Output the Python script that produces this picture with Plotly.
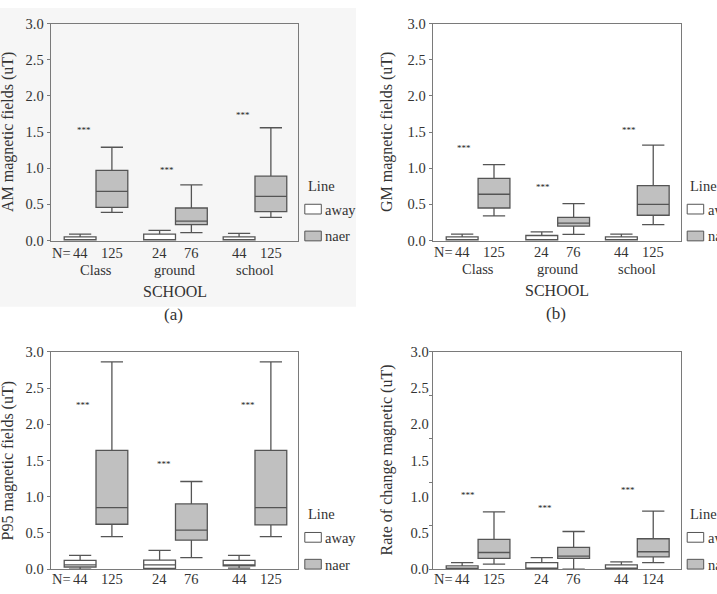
import plotly.graph_objects as go

W, H = 717, 594

# ---------------- data ----------------
groups = ["Class", "ground", "school"]
lines = ["away", "naer"]

# AM magnetic fields
am_away_q1 = [0.0, 0.0, 0.0]
am_away_med = [0.01, 0.01, 0.01]
am_away_q3 = [0.05, 0.09, 0.05]
am_away_lo = [0.0, 0.0, 0.0]
am_away_hi = [0.09, 0.14, 0.10]
am_naer_q1 = [0.46, 0.22, 0.40]
am_naer_med = [0.68, 0.27, 0.61]
am_naer_q3 = [0.97, 0.45, 0.89]
am_naer_lo = [0.39, 0.11, 0.32]
am_naer_hi = [1.29, 0.77, 1.56]
am_star_y = [1.56, 1.00, 1.77]
am_n_away = [44, 24, 44]
am_n_naer = [125, 76, 125]

# GM magnetic fields
gm_away_q1 = [0.0, 0.0, 0.0]
gm_away_med = [0.01, 0.01, 0.01]
gm_away_q3 = [0.05, 0.07, 0.05]
gm_away_lo = [0.0, 0.0, 0.0]
gm_away_hi = [0.09, 0.12, 0.09]
gm_naer_q1 = [0.45, 0.20, 0.35]
gm_naer_med = [0.64, 0.24, 0.50]
gm_naer_q3 = [0.86, 0.32, 0.76]
gm_naer_lo = [0.34, 0.085, 0.22]
gm_naer_hi = [1.05, 0.51, 1.32]
gm_star_y = [1.31, 0.77, 1.56]
gm_n_away = [44, 24, 44]
gm_n_naer = [125, 76, 125]

# P95 magnetic fields
p95_away_q1 = [0.03, 0.01, 0.045]
p95_away_med = [0.06, 0.06, 0.06]
p95_away_q3 = [0.12, 0.125, 0.12]
p95_away_lo = [0.0, 0.0, 0.015]
p95_away_hi = [0.19, 0.26, 0.19]
p95_naer_q1 = [0.62, 0.40, 0.61]
p95_naer_med = [0.85, 0.54, 0.85]
p95_naer_q3 = [1.64, 0.90, 1.64]
p95_naer_lo = [0.45, 0.16, 0.45]
p95_naer_hi = [2.86, 1.21, 2.86]
p95_star_y = [2.30, 1.48, 2.29]
p95_n_away = [44, 24, 44]
p95_n_naer = [125, 76, 125]

# Rate of change magnetic
rc_away_q1 = [0.0, 0.0, 0.0]
rc_away_med = [0.01, 0.01, 0.01]
rc_away_q3 = [0.045, 0.09, 0.06]
rc_away_lo = [0.0, 0.0, 0.0]
rc_away_hi = [0.09, 0.16, 0.10]
rc_naer_q1 = [0.15, 0.15, 0.17]
rc_naer_med = [0.23, 0.18, 0.24]
rc_naer_q3 = [0.41, 0.30, 0.42]
rc_naer_lo = [0.07, 0.0, 0.09]
rc_naer_hi = [0.79, 0.52, 0.80]
rc_star_y = [1.05, 0.87, 1.12]
rc_n_away = [44, 24, 44]
rc_n_naer = [125, 76, 124]

y_ticks = [0.0, 0.5, 1.0, 1.5, 2.0, 2.5, 3.0]
y_tick_text = ["0.0", "0.5", "1.0", "1.5", "2.0", "2.5", "3.0"]
rc_tick_marks = [0.0, 0.6, 1.2, 1.8, 2.4, 3.0]

# ---------------- style ----------------
FONT = "Liberation Serif"
TXT = "#333333"
FRAME = "#7a7a7a"
BOXLINE = "#555555"
NAER_FILL = "#c0c0c0"
AWAY_FILL = "#ffffff"
FS = 14.5


def px(x):
    return x / W


def py(y):
    return 1 - y / H


def ann(text, x, y, xref="paper", yref="paper", xanchor="center", size=FS, **kw):
    d = dict(text=text, x=x, y=y, xref=xref, yref=yref, xanchor=xanchor, yanchor="middle",
             showarrow=False, font=dict(family=FONT, size=size, color=kw.pop("color", TXT)))
    d.update(kw)
    return d


panels = [
    dict(ax="", dom=(50.7, 298.3, 16, 239), title="AM magnetic fields (uT)", tx=8,
         away=(am_away_q1, am_away_med, am_away_q3, am_away_lo, am_away_hi),
         naer=(am_naer_q1, am_naer_med, am_naer_q3, am_naer_lo, am_naer_hi),
         star=am_star_y, star_dx=[-0.15, -0.11, -0.15],
         n=(am_n_away, am_n_naer), ny=251.7, cats=True, letter="(a)"),
    dict(ax="2", dom=(432.7, 680.7, 16, 239), title="GM magnetic fields (uT)", tx=387,
         away=(gm_away_q1, gm_away_med, gm_away_q3, gm_away_lo, gm_away_hi),
         naer=(gm_naer_q1, gm_naer_med, gm_naer_q3, gm_naer_lo, gm_naer_hi),
         star=gm_star_y, star_dx=[-0.18, -0.18, -0.11],
         n=(gm_n_away, gm_n_naer), ny=250.5, cats=True, letter="(b)"),
    dict(ax="3", dom=(50.7, 298.3, 353.3, 576.7), title="P95 magnetic fields (uT)", tx=8,
         away=(p95_away_q1, p95_away_med, p95_away_q3, p95_away_lo, p95_away_hi),
         naer=(p95_naer_q1, p95_naer_med, p95_naer_q3, p95_naer_lo, p95_naer_hi),
         star=p95_star_y, star_dx=[-0.16, -0.15, -0.09],
         n=(p95_n_away, p95_n_naer), ny=587, cats=False, letter=None),
    dict(ax="4", dom=(432.7, 680.7, 353.3, 576.7), title="Rate of change magnetic (uT)", tx=387,
         away=(rc_away_q1, rc_away_med, rc_away_q3, rc_away_lo, rc_away_hi),
         naer=(rc_naer_q1, rc_naer_med, rc_naer_q3, rc_naer_lo, rc_naer_hi),
         star=rc_star_y, star_dx=[-0.13, -0.16, -0.12],
         n=(rc_n_away, rc_n_naer), ny=587, cats=False, letter=None, oddticks=True),
]

fig = go.Figure()
annotations = []
shapes = []

# faint grey background behind panel (a)
shapes.append(dict(type="rect", xref="paper", yref="paper", x0=0, x1=px(356), y0=py(307), y1=1,
                   fillcolor="#f6f6f6", line=dict(width=0), layer="below"))

gx = list(range(len(groups)))
layout_axes = {}

for p in panels:
    xa = "x" + p["ax"]
    ya = "y" + p["ax"]
    xkey = "xaxis" + p["ax"]
    ykey = "yaxis" + p["ax"]
    x0, x1, y0, y1 = p["dom"]
    for li, (stats, fill) in enumerate([(p["away"], AWAY_FILL), (p["naer"], NAER_FILL)]):
        q1, med, q3, lo, hi = stats
        off = -0.2 if li == 0 else 0.2
        fig.add_trace(go.Box(
            x=[g + off for g in gx], q1=q1, median=med, q3=q3, lowerfence=lo, upperfence=hi,
            width=0.4, whiskerwidth=0.7, fillcolor=fill, boxpoints=False,
            line=dict(color=BOXLINE, width=1.3), xaxis=xa, yaxis=ya,
            showlegend=False, hoverinfo="skip", name=lines[li]))

    ax_common = dict(showline=True, linecolor=FRAME, linewidth=1.2, mirror=True,
                     showgrid=False, zeroline=False)
    layout_axes[xkey] = dict(domain=[px(x0), px(x1)], range=[-0.57, 2.545], anchor=ya,
                             showticklabels=False, ticks="", **ax_common)
    ydict = dict(domain=[py(y1), py(y0)], range=[0, 3], anchor=xa,
                 tickmode="array", tickvals=y_ticks, ticktext=y_tick_text,
                 tickfont=dict(family=FONT, size=FS, color=TXT), **ax_common)
    if p.get("oddticks"):
        ydict.update(ticks="", minor=dict(tickmode="array", tickvals=rc_tick_marks,
                                          ticks="outside", ticklen=3, tickcolor=FRAME, tickwidth=1))
    else:
        ydict.update(ticks="outside", ticklen=3, tickcolor=FRAME, tickwidth=1)
    layout_axes[ykey] = ydict

    # y-axis title
    annotations.append(ann(p["title"], px(p["tx"]), py((y0 + y1) / 2), textangle=-90, size=16))
    # significance stars
    for g, sy, dx in zip(gx, p["star"], p["star_dx"]):
        annotations.append(ann("***", g + dx, sy, xref=xa, yref=ya, size=9, color="#222222",
                               yshift=-2))
    # N labels
    n_away, n_naer = p["n"]
    for g, na, nn in zip(gx, n_away, n_naer):
        annotations.append(ann(str(na), g - 0.2, py(p["ny"]), xref=xa))
        annotations.append(ann(str(nn), g + 0.2, py(p["ny"]), xref=xa))
    annotations.append(ann("N=", -0.2, py(p["ny"]), xref=xa, xanchor="right", xshift=-7))
    if p["cats"]:
        for g, c in zip(gx, groups):
            annotations.append(ann(c, g, py(p["ny"] + 18), xref=xa))
        annotations.append(ann("SCHOOL", px((x0 + x1) / 2), py(p["ny"] + 40), size=16))
        annotations.append(ann(p["letter"], px((x0 + x1) / 2 - 1), py(p["ny"] + 63), size=17))

    # legend
    lx = x1 + 6.5
    ly = y0 + 166.7
    annotations.append(ann("Line", px(lx + 1), py(ly), xanchor="left"))
    for k, (lab, fill) in enumerate([("away", AWAY_FILL), ("naer", NAER_FILL)]):
        by0 = ly + 19 + k * 27.6
        shapes.append(dict(type="rect", xref="paper", yref="paper",
                           x0=px(lx), x1=px(lx + 16.5), y0=py(by0 + 10), y1=py(by0),
                           fillcolor=fill, line=dict(color=BOXLINE, width=1)))
        annotations.append(ann(lab, px(lx + 18.5), py(by0 + 5.5), xanchor="left"))

fig.update_layout(
    width=W, height=H, margin=dict(l=0, r=0, t=0, b=0),
    paper_bgcolor="white", plot_bgcolor="rgba(0,0,0,0)",
    showlegend=False, annotations=annotations, shapes=shapes,
    font=dict(family=FONT, color=TXT),
    **layout_axes,
)

fig.write_html("out.html")
